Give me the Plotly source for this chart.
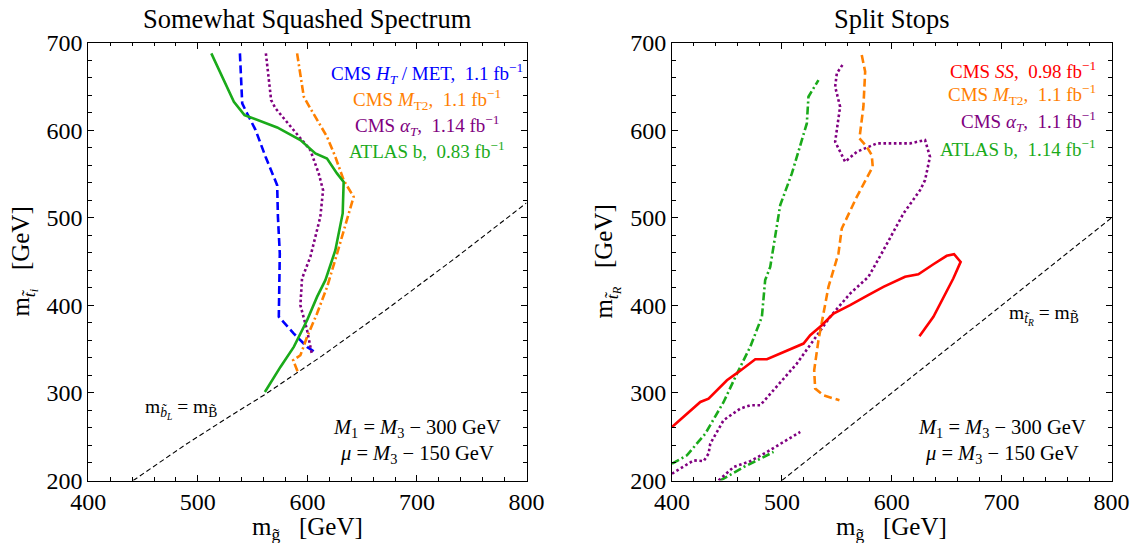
import plotly.graph_objects as go

# ---------------- data: left panel (Somewhat Squashed Spectrum) ----------------
L_atlas_x = [512.3, 532.9, 542.6, 572.4, 593.6, 607.3, 617.9, 627.0, 633.1, 632.2, 625.5, 616.4, 608.8, 599.7, 587.6, 575.4, 561.2]
L_atlas_y = [687.8, 632.6, 617.3, 603.2, 588.8, 573.5, 567.8, 550.7, 541.1, 505.0, 463.0, 428.8, 409.7, 383.0, 352.6, 329.7, 301.1]

L_ht_x = [538.4, 540.5, 545.0, 552.7, 561.8, 572.4, 573.1, 574.8, 573.9, 587.6, 599.7, 608.8]
L_ht_y = [687.8, 630.7, 619.2, 600.2, 569.7, 537.3, 501.1, 459.2, 386.9, 367.8, 352.6, 345.0]

L_at_x = [562.1, 566.9, 570.9, 587.6, 602.7, 610.3, 614.3, 611.8, 602.7, 595.1, 593.6, 599.7, 602.7, 604.3]
L_at_y = [687.8, 634.5, 625.0, 600.2, 577.3, 550.7, 531.6, 501.1, 455.4, 430.7, 400.2, 371.6, 352.6, 343.1]

L_mt2_x = [590.6, 596.7, 602.7, 617.9, 625.5, 633.1, 642.2, 636.2, 627.1, 618.0, 608.8, 599.7, 593.6, 587.0, 591.2]
L_mt2_y = [687.8, 638.3, 625.0, 592.6, 569.7, 543.0, 524.0, 497.3, 459.2, 421.1, 390.7, 364.0, 343.0, 337.3, 324.0]

L_ref_x = [441, 490, 530, 561, 613, 674, 736, 800]
L_ref_y = [200, 242, 274, 298, 342, 397, 455, 517]

# ---------------- data: right panel (Split Stops) ----------------
R_ss_x = [400.0, 425.8, 433.3, 450.0, 460.6, 475.8, 486.4, 501.5, 519.7, 525.8, 536.4, 547.0, 562.1, 577.3, 592.4, 612.1, 624.2, 637.9, 650.0, 656.7, 662.7, 656.0, 647.0, 637.9, 625.2]
R_ss_y = [261.1, 289.7, 293.5, 314.5, 324.0, 338.5, 338.5, 346.9, 356.4, 365.9, 377.3, 390.7, 400.2, 410.9, 421.1, 432.6, 435.6, 447.0, 456.6, 458.5, 449.7, 430.7, 409.7, 386.9, 364.8]

R_mt2_x = [572.7, 575.8, 574.2, 570.6, 577.3, 581.8, 582.7, 568.2, 554.5, 551.5, 542.4, 537.3, 533.3, 529.4, 530.3, 537.9, 552.4]
R_mt2_y = [685.9, 666.9, 626.9, 590.7, 581.1, 571.6, 558.3, 524.0, 487.8, 459.2, 421.1, 386.9, 360.2, 325.9, 305.0, 297.3, 291.6]

R_at_x = [400.0, 419.7, 428.8, 433.3, 434.8, 446.9, 462.1, 471.2, 480.3, 492.4, 513.6, 528.8, 543.9, 562.1, 578.8, 592.4, 610.6, 625.8, 630.3, 634.8, 630.3, 616.7, 586.4, 568.2, 557.6, 548.5, 553.0, 548.5, 550.0, 556.1]
R_at_y = [207.8, 223.0, 222.1, 230.7, 242.0, 268.8, 282.1, 285.9, 285.9, 303.0, 333.5, 360.2, 386.9, 413.5, 432.6, 463.0, 504.9, 531.6, 543.0, 569.7, 588.8, 585.0, 585.0, 575.4, 564.0, 586.9, 626.9, 649.7, 665.0, 676.4]

R_at2_x = [442.4, 456.1, 471.2, 486.4, 501.5, 516.7]
R_at2_y = [200.0, 215.4, 222.1, 232.6, 244.0, 255.4]

R_atlas_x = [400.0, 413.6, 430.3, 447.0, 460.6, 471.2, 481.8, 484.8, 489.4, 498.5, 509.1, 522.7, 524.2, 533.3]
R_atlas_y = [219.2, 228.8, 253.5, 289.7, 325.9, 352.6, 386.9, 428.8, 444.0, 514.5, 550.7, 607.8, 638.3, 657.3]

R_atlas2_x = [443.9, 465.2, 483.3, 492.4]
R_atlas2_y = [200.0, 215.4, 226.7, 232.6]

R_ref_x = [500, 800]
R_ref_y = [200, 500]

# ---------------- text ----------------
titles = ["Somewhat Squashed Spectrum", "Split Stops"]
x_title = "m<sub>g\u0303</sub>\u00a0\u00a0 [GeV]"
y_titles = ["m<sub><i>t\u0303<sub>i</sub></i></sub>\u00a0\u00a0 [GeV]", "m<sub><i>t\u0303<sub>R</sub></i></sub>\u00a0\u00a0 [GeV]"]
L_legend = ["CMS <i>H<sub>T</sub></i> / MET,\u00a0 1.1 fb<sup>\u22121</sup>",
            "CMS <i>M</i><sub>T2</sub>,\u00a0 1.1 fb<sup>\u22121</sup>",
            "CMS <i>\u03b1<sub>T</sub></i>,\u00a0 1.14 fb<sup>\u22121</sup>",
            "ATLAS b,\u00a0 0.83 fb<sup>\u22121</sup>"]
R_legend = ["CMS <i>SS</i>,\u00a0 0.98 fb<sup>\u22121</sup>",
            "CMS <i>M</i><sub>T2</sub>,\u00a0 1.1 fb<sup>\u22121</sup>",
            "CMS <i>\u03b1<sub>T</sub></i>,\u00a0 1.1 fb<sup>\u22121</sup>",
            "ATLAS b,\u00a0 1.14 fb<sup>\u22121</sup>"]
param_text = ["<i>M</i><sub>1</sub> = <i>M</i><sub>3</sub> \u2212 300 GeV",
              "<i>\u03bc</i> = <i>M</i><sub>3</sub> \u2212 150 GeV"]
L_ref_label = "m<sub><i>b\u0303<sub>L</sub></i></sub> = m<sub>B\u0303</sub>"
R_ref_label = "m<sub><i>t\u0303<sub>R</sub></i></sub> = m<sub>B\u0303</sub>"

BLUE = "#0000ff"
ORANGE = "#ff8000"
PURPLE = "#800080"
GREEN = "#1aaa1a"
RED = "#ff0000"
FONT = "Liberation Serif, Times New Roman, serif"
LW = 2.6

# the page body margin is removed below, so the figure fills the window exactly
W, H = 1131, 543

def px(p):
    return p / W

def py(p):
    return 1 - p / H

fig = go.Figure()

def add_line(x, y, color, dash, xa, ya, width=LW):
    fig.add_trace(go.Scatter(x=x, y=y, mode="lines", xaxis=xa, yaxis=ya,
                             line=dict(color=color, width=width, dash=dash),
                             showlegend=False, hoverinfo="skip"))

# left panel
add_line(L_ref_x, L_ref_y, "black", "5px,3px", "x", "y", 1.1)
add_line(L_ht_x, L_ht_y, BLUE, "8px,4px", "x", "y")
add_line(L_mt2_x, L_mt2_y, ORANGE, "8px,3px,2px,3px", "x", "y")
add_line(L_at_x, L_at_y, PURPLE, "2.6px,2.6px", "x", "y")
add_line(L_atlas_x, L_atlas_y, GREEN, "solid", "x", "y")

# right panel
add_line(R_ref_x, R_ref_y, "black", "5px,3px", "x2", "y2", 1.1)
add_line(R_atlas_x, R_atlas_y, GREEN, "8px,3px,2px,3px", "x2", "y2")
add_line(R_atlas2_x, R_atlas2_y, GREEN, "8px,3px,2px,3px", "x2", "y2")
add_line(R_at_x, R_at_y, PURPLE, "2.6px,2.6px", "x2", "y2")
add_line(R_at2_x, R_at2_y, PURPLE, "2.6px,2.6px", "x2", "y2")
add_line(R_mt2_x, R_mt2_y, ORANGE, "8px,4px", "x2", "y2")
add_line(R_ss_x, R_ss_y, RED, "solid", "x2", "y2")

axis_common = dict(range=[400, 800], dtick=100, tick0=400, ticks="inside", ticklen=6,
                   tickwidth=1, tickcolor="black", showline=True, linecolor="black",
                   linewidth=1, mirror="allticks", showgrid=False, zeroline=False,
                   automargin=False,
                   tickfont=dict(family=FONT, size=24, color="black"),
                   minor=dict(dtick=20, ticks="inside", ticklen=3.5, tickcolor="black",
                              tickwidth=1, showgrid=False))
yaxis_common = dict(axis_common)
yaxis_common.update(range=[200, 700], tick0=200)

xd1 = [px(88.3), px(526.5)]
xd2 = [px(672.0), px(1111.5)]
yd = [py(480.5), py(42.7)]

fig.update_layout(
    width=W, height=H, autosize=False,
    margin=dict(l=0, r=0, t=0, b=0, autoexpand=False),
    paper_bgcolor="white", plot_bgcolor="white",
    font=dict(family=FONT, color="black"),
    xaxis=dict(axis_common, domain=xd1, anchor="y"),
    yaxis=dict(yaxis_common, domain=yd, anchor="x"),
    xaxis2=dict(axis_common, domain=xd2, anchor="y2"),
    yaxis2=dict(yaxis_common, domain=yd, anchor="x2"),
)

ann = []
for i, t in enumerate(titles):
    cx = (xd1[0] + xd1[1]) / 2 if i == 0 else (xd2[0] + xd2[1]) / 2
    ann.append(dict(text=t, x=cx, y=py(19), xref="paper", yref="paper",
                    xanchor="center", yanchor="middle", showarrow=False,
                    font=dict(family=FONT, size=26.5, color="black")))
    ann.append(dict(text=x_title, x=cx, y=py(528), xref="paper", yref="paper",
                    xanchor="center", yanchor="middle", showarrow=False,
                    font=dict(family=FONT, size=25, color="black")))
    lx = px(24) if i == 0 else px(607)
    ann.append(dict(text=y_titles[i], x=lx, y=(yd[0] + yd[1]) / 2, xref="paper", yref="paper",
                    xanchor="center", yanchor="middle", showarrow=False, textangle=-90,
                    font=dict(family=FONT, size=25, color="black")))

# left legend: centred block
L_colors = [BLUE, ORANGE, PURPLE, GREEN]
L_rows = [665, 635.3, 605.9, 577.3]
for t, c, yv in zip(L_legend, L_colors, L_rows):
    ann.append(dict(text=t, x=709.5, y=yv, xref="x", yref="y", xanchor="center", yanchor="middle",
                    showarrow=False, font=dict(family=FONT, size=19, color=c)))
# right legend: right-aligned block
R_colors = [RED, ORANGE, PURPLE, GREEN]
R_rows = [668.8, 640.3, 609.8, 579.4]
for t, c, yv in zip(R_legend, R_colors, R_rows):
    ann.append(dict(text=t, x=788, y=yv, xref="x2", yref="y2", xanchor="right", yanchor="middle",
                    showarrow=False, font=dict(family=FONT, size=19, color=c)))

for xr, yr in (("x", "y"), ("x2", "y2")):
    ann.append(dict(text=param_text[0], x=700, y=259, xref=xr, yref=yr, xanchor="center",
                    yanchor="middle", showarrow=False, font=dict(family=FONT, size=20.5, color="black")))
    ann.append(dict(text=param_text[1], x=700, y=230, xref=xr, yref=yr, xanchor="center",
                    yanchor="middle", showarrow=False, font=dict(family=FONT, size=20.5, color="black")))

ann.append(dict(text=L_ref_label, x=485, y=282, xref="x", yref="y", xanchor="center",
                yanchor="middle", showarrow=False, font=dict(family=FONT, size=19.5, color="black")))
ann.append(dict(text=R_ref_label, x=739, y=389, xref="x2", yref="y2", xanchor="center",
                yanchor="middle", showarrow=False, font=dict(family=FONT, size=19.5, color="black")))

fig.update_layout(annotations=ann)
fig.write_html("out.html",
               config={"displayModeBar": False},
               post_script="document.body.style.margin='0';document.body.style.overflow='hidden';")
